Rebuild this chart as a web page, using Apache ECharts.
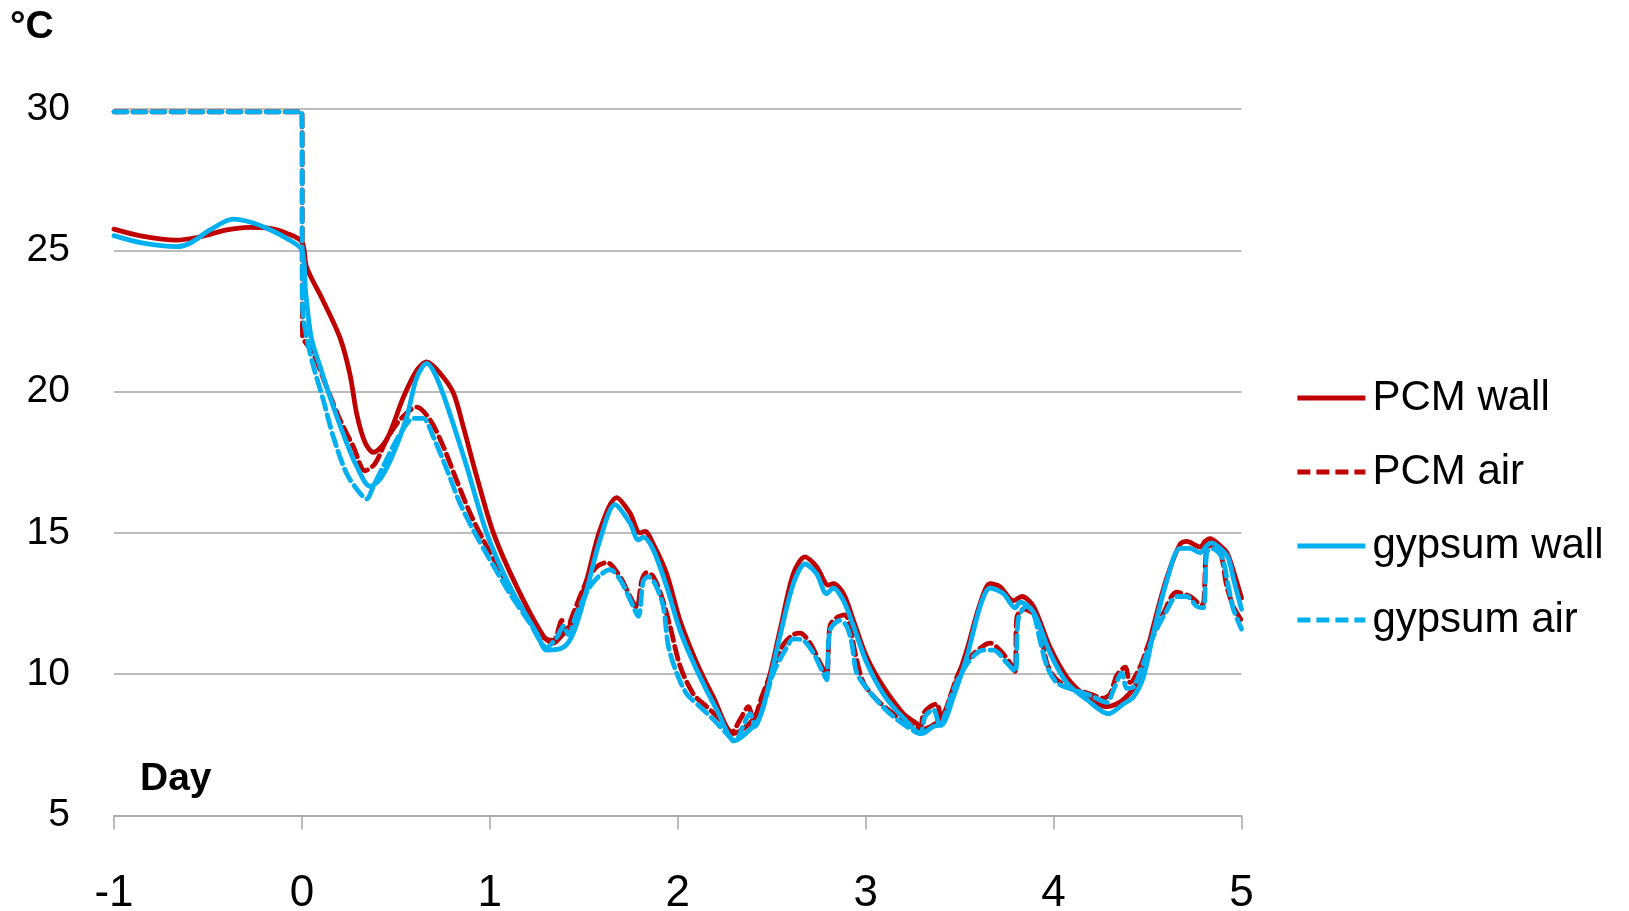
<!DOCTYPE html>
<html>
<head>
<meta charset="utf-8">
<script src="https://cdn.jsdelivr.net/npm/echarts@6/dist/echarts.min.js"></script>
<style>
html,body{margin:0;padding:0;background:#fff;}
#chart{width:1629px;height:911px;}
</style>
</head>
<body>
<div id="chart"></div>
<script>
// ---- data ----
const xTicks = [-1, 0, 1, 2, 3, 4, 5];
const yTicks = [5, 10, 15, 20, 25, 30];
const seriesNames = ['PCM wall', 'PCM air', 'gypsum wall', 'gypsum air'];

const pcmWallDays = [-1.0,-0.85,-0.67,-0.54,-0.40,-0.28,-0.17,-0.08,0.0,0.025,0.114,0.203,0.256,0.292,0.336,0.38,0.451,0.54,0.611,0.664,0.735,0.806,0.859,0.93,1.019,1.143,1.285,1.338,1.374,1.444,1.516,1.586,1.675,1.746,1.799,1.826,1.87,1.941,2.012,2.101,2.189,2.296,2.402,2.473,2.544,2.615,2.677,2.739,2.802,2.828,2.882,2.935,3.006,3.094,3.201,3.272,3.298,3.396,3.467,3.538,3.609,3.662,3.715,3.786,3.831,3.893,3.981,4.07,4.159,4.283,4.372,4.46,4.531,4.602,4.673,4.709,4.78,4.806,4.833,4.886,4.922,4.95,5.0];
const pcmWallTemps = [25.75,25.5,25.36,25.48,25.72,25.81,25.78,25.6,25.3,24.4,23.2,21.9,20.6,19.2,18.2,17.85,18.3,19.8,20.75,21.05,20.65,19.95,18.75,17.0,15.0,13.1,11.35,11.1,11.3,11.9,13.35,15.1,16.25,15.7,15.0,15.05,14.6,13.55,11.9,10.4,9.2,7.9,8.4,9.55,11.55,13.55,14.15,13.8,13.15,13.2,12.85,11.9,10.6,9.55,8.6,8.25,8.05,8.4,9.45,10.85,12.5,13.2,13.1,12.6,12.75,12.4,10.95,9.9,9.3,8.85,9.1,9.9,11.7,13.4,14.6,14.7,14.5,14.7,14.8,14.55,14.3,13.8,12.7];

const pcmAirDays = [-1.0,-0.01,0.0,0.003,0.061,0.132,0.203,0.274,0.336,0.389,0.451,0.522,0.611,0.682,0.753,0.824,0.895,0.965,1.072,1.178,1.285,1.338,1.383,1.40,1.444,1.516,1.569,1.622,1.693,1.746,1.782,1.808,1.835,1.87,1.914,1.959,2.012,2.083,2.154,2.225,2.287,2.332,2.376,2.402,2.447,2.509,2.562,2.615,2.651,2.704,2.757,2.792,2.81,2.846,2.89,2.917,2.944,2.988,3.059,3.147,3.236,3.289,3.307,3.343,3.378,3.405,3.449,3.502,3.555,3.626,3.662,3.715,3.768,3.795,3.804,3.84,3.893,3.928,3.964,4.017,4.106,4.194,4.265,4.301,4.336,4.381,4.407,4.46,4.513,4.584,4.655,4.726,4.789,4.80,4.815,4.842,4.886,4.922,4.957,5.0];
const pcmAirTemps = [29.9,29.9,29.9,22.0,21.35,20.15,19.0,18.05,17.2,17.45,18.3,19.0,19.45,19.0,18.05,16.85,15.7,14.75,13.45,12.25,11.3,11.2,11.9,11.45,12.15,13.3,13.8,13.95,13.45,12.75,12.35,13.3,13.6,13.45,12.75,11.7,10.3,9.3,8.85,8.4,7.95,8.4,8.85,8.4,9.2,10.25,11.05,11.4,11.45,11.1,10.4,10.0,11.7,12.0,12.1,11.7,10.75,9.7,9.1,8.6,8.2,8.1,8.6,8.85,8.95,8.4,9.2,10.15,10.6,11.0,11.1,10.85,10.4,10.1,12.0,12.3,12.15,11.7,10.4,9.8,9.5,9.3,9.15,9.3,9.95,10.25,9.7,10.25,11.2,12.15,12.9,12.75,12.45,12.6,14.5,14.55,14.35,13.1,12.4,11.9];

const gypWallDays = [-1.0,-0.844,-0.666,-0.596,-0.489,-0.365,-0.276,-0.187,-0.081,0.0,0.02,0.05,0.096,0.15,0.22,0.292,0.362,0.416,0.486,0.558,0.611,0.664,0.717,0.788,0.877,0.983,1.107,1.25,1.303,1.392,1.444,1.516,1.586,1.666,1.746,1.79,1.817,1.87,1.941,2.012,2.101,2.207,2.305,2.386,2.438,2.491,2.544,2.615,2.677,2.739,2.792,2.828,2.882,2.935,3.006,3.094,3.201,3.298,3.36,3.413,3.467,3.538,3.609,3.662,3.733,3.795,3.822,3.893,3.981,4.07,4.177,4.292,4.372,4.425,4.478,4.531,4.602,4.673,4.726,4.78,4.815,4.842,4.895,4.93,4.96,5.0];
const gypWallTemps = [25.52,25.25,25.13,25.25,25.72,26.1,26.0,25.78,25.42,25.0,23.5,21.9,20.9,19.8,18.5,17.35,16.65,16.9,17.8,19.1,20.5,21.0,20.5,19.2,17.35,15.0,13.1,11.45,10.85,10.95,11.45,13.0,14.75,16.0,15.35,14.75,14.85,14.4,13.1,11.55,10.15,8.75,7.65,8.05,8.5,9.8,11.35,13.2,13.9,13.55,12.85,13.05,12.6,11.7,10.4,9.3,8.45,7.9,8.15,8.25,9.2,10.6,12.4,13.05,12.85,12.35,12.55,12.2,10.75,9.7,9.1,8.6,8.95,9.2,9.9,11.45,13.3,14.45,14.45,14.3,14.55,14.65,14.4,14.1,13.3,12.3];

const gypAirDays = [-1.0,-0.01,0.0,0.003,0.026,0.061,0.114,0.167,0.238,0.309,0.345,0.38,0.451,0.522,0.593,0.646,0.699,0.771,0.841,0.912,1.001,1.107,1.214,1.303,1.356,1.392,1.418,1.462,1.533,1.586,1.64,1.693,1.746,1.79,1.817,1.844,1.879,1.923,1.95,1.994,2.048,2.119,2.189,2.26,2.305,2.34,2.385,2.411,2.455,2.509,2.58,2.615,2.668,2.722,2.766,2.792,2.81,2.863,2.899,2.926,2.952,3.006,3.077,3.147,3.219,3.289,3.316,3.36,3.396,3.431,3.484,3.555,3.626,3.68,3.751,3.795,3.813,3.857,3.893,3.928,3.964,4.017,4.106,4.194,4.283,4.319,4.363,4.39,4.425,4.478,4.531,4.602,4.655,4.709,4.762,4.797,4.815,4.842,4.895,4.93,4.957,5.0];
const gypAirTemps = [29.9,29.9,29.9,23.0,21.9,20.9,19.7,18.4,17.1,16.4,16.2,16.65,17.6,18.5,19.05,19.05,18.4,17.25,16.05,15.1,14.05,12.85,11.8,10.95,11.3,11.7,11.4,12.15,13.1,13.5,13.7,13.35,12.65,12.05,13.3,13.45,13.2,12.4,11.0,10.05,9.3,8.85,8.4,7.9,7.6,8.05,8.6,8.15,8.85,10.05,10.95,11.25,11.2,10.75,10.15,9.8,11.55,11.9,11.7,11.1,10.05,9.5,8.95,8.5,8.15,7.9,8.5,8.75,8.15,8.75,9.7,10.5,10.85,10.85,10.4,10.1,12.0,12.4,12.15,11.2,10.3,9.7,9.45,9.25,9.0,9.45,10.05,9.5,9.55,10.4,11.35,12.25,12.75,12.75,12.4,12.35,14.3,14.45,14.15,13.1,12.3,11.6];

// ---- build ----
const RED = '#C00000', BLUE = '#00B0F0';
const zip = (xs, ys) => xs.map((x, i) => [x, ys[i]]);
const DASH = [13, 6];
const LW = 4.8;

function mk(name, xs, ys, color, dashed) {
  return {
    name, type: 'line', data: zip(xs, ys),
    symbol: 'none', showSymbol: false, smooth: 0.3,
    lineStyle: { color, width: LW, type: dashed ? DASH : 'solid', cap: 'round', join: 'round' },
    itemStyle: { color, opacity: 0 },
    animation: false
  };
}

const chart = echarts.init(document.getElementById('chart'), null, { renderer: 'canvas' });
chart.setOption({
  backgroundColor: '#fff',
  animation: false,
  grid: { left: 114, right: 387.5, top: 109, bottom: 95.5, containLabel: false, outerBoundsMode: 'none' },
  xAxis: {
    type: 'value', min: xTicks[0], max: xTicks[xTicks.length - 1], interval: 1,
    axisLine: { show: true, lineStyle: { color: '#A6A6A6', width: 1.5 } },
    axisTick: { show: true, length: 14, lineStyle: { color: '#A6A6A6', width: 1.5 } },
    splitLine: { show: false },
    axisLabel: {
      margin: 56, color: '#000',
      fontFamily: "'Liberation Sans Narrow', 'Liberation Sans', sans-serif",
      fontSize: 44,
      formatter: v => String(v)
    }
  },
  yAxis: {
    type: 'value', min: yTicks[0], max: yTicks[yTicks.length - 1], interval: 5,
    axisLine: { show: false }, axisTick: { show: false },
    splitLine: { show: true, lineStyle: { color: '#A6A6A6', width: 1.5 } },
    axisLabel: {
      margin: 44, color: '#000',
      fontFamily: "'Liberation Sans', sans-serif", fontSize: 39
    }
  },
  legend: {
    orient: 'vertical', left: 1290, top: 372,
    itemWidth: 68, itemHeight: 20, itemGap: 32,
    data: seriesNames,
    itemStyle: { opacity: 0, borderWidth: 0 },
    lineStyle: { width: LW, cap: 'butt' },
    textStyle: { fontFamily: "'Liberation Sans', sans-serif", fontSize: 42, color: '#000', lineHeight: 42, padding: [0, 0, 0, 2] }
  },
  graphic: [
    { type: 'text', left: 10, top: 8, style: { text: '°C', font: "bold 39px 'Liberation Sans', sans-serif", fill: '#000' } },
    { type: 'text', left: 140, top: 760, style: { text: 'Day', font: "bold 39px 'Liberation Sans', sans-serif", fill: '#000' } }
  ],
  series: [
    mk(seriesNames[0], pcmWallDays, pcmWallTemps, RED, false),
    mk(seriesNames[1], pcmAirDays, pcmAirTemps, RED, true),
    mk(seriesNames[2], gypWallDays, gypWallTemps, BLUE, false),
    mk(seriesNames[3], gypAirDays, gypAirTemps, BLUE, true)
  ]
});
</script>
</body>
</html>
